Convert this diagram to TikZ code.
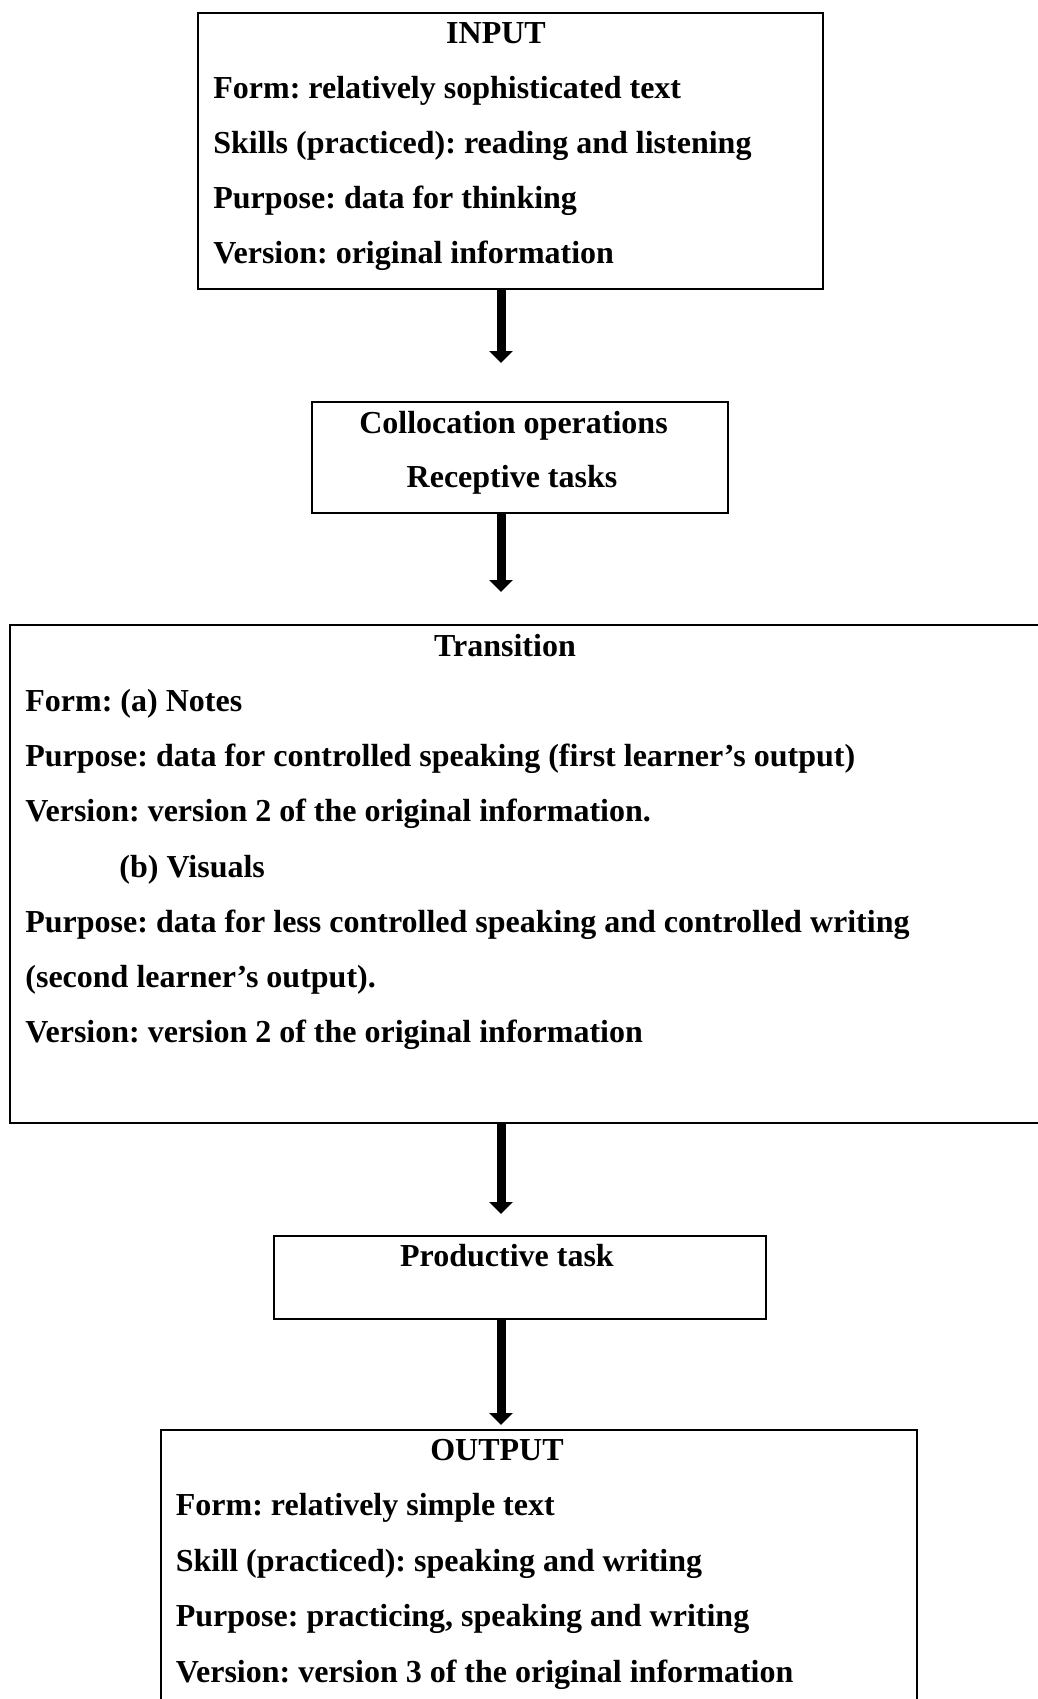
\documentclass[tikz,border=0pt]{standalone}
\usepackage{fontspec}
\setmainfont{Liberation Serif}
\usetikzlibrary{arrows.meta,calc}
\frenchspacing
\begin{document}
\begin{tikzpicture}[x=0.5pt,y=-0.5pt,
  box/.style={draw,line width=1.4pt,inner sep=0pt,outer sep=0pt,anchor=north west},
  txt/.style={inner sep=0pt,anchor=base west,font=\fontsize{16}{19}\selectfont\bfseries\frenchspacing},
  ttl/.style={inner sep=0pt,anchor=base,font=\fontsize{16}{19}\selectfont\bfseries\frenchspacing},
  flow/.style={line width=4.5pt,-{Triangle[width=11.5pt,length=6pt]}}]
\useasboundingbox (0,0) rectangle (1038,1699);
% boxes
\node[box,minimum width=312.5pt,minimum height=138pt] (in) at (198,13) {};
\node[box,minimum width=208pt,minimum height=55.5pt] (b2) at (312,402) {};
\node[box,minimum width=520pt,minimum height=249pt] (tr) at (10,625) {};
\node[box,minimum width=246pt,minimum height=41.5pt] (pt) at (274,1236) {};
\node[box,minimum width=378pt,minimum height=145pt] (out) at (161,1430) {};
\coordinate (ax) at (501,0);
% texts: input
\node[ttl] (inT) at (496,43) {INPUT};
\node[txt] (in1) at (213,98.5) {Form: relatively sophisticated text};
\node[txt] (in2) at (213,153.5) {Skills (practiced): reading and listening};
\node[txt] (in3) at (213,208.5) {Purpose: data for thinking};
\node[txt] (in4) at (213,263.5) {Version: original information};
% box 2
\node[ttl] (b2a) at (513.5,433) {Collocation operations};
\node[ttl] (b2b) at (512,487) {Receptive tasks};
% transition
\node[ttl] (trT) at (505,656) {Transition};
\node[txt] (tr1) at (25,711) {Form: (a) Notes};
\node[txt] (tr2) at (25,766) {Purpose: data for controlled speaking (first learner’s output)};
\node[txt] (tr3) at (25,821.5) {Version: version 2 of the original information.};
\node[txt] (tr4) at (119,877) {(b) Visuals};
\node[txt] (tr5) at (25,932) {Purpose: data for less controlled speaking and controlled writing};
\node[txt] (tr6) at (25,987) {(second learner’s output).};
\node[txt] (tr7) at (25,1042.5) {Version: version 2 of the original information};
% productive
\node[ttl] (ptT) at (507,1266) {Productive task};
% output
\node[ttl] (outT) at (497,1460) {OUTPUT};
\node[txt] (out1) at (175.5,1515.5) {Form: relatively simple text};
\node[txt] (out2) at (175.5,1571) {Skill (practiced): speaking and writing};
\node[txt] (out3) at (175.5,1626.5) {Purpose: practicing, speaking and writing};
\node[txt] (out4) at (175.5,1682) {Version: version 3 of the original information};
% connectors
\draw[flow,shorten >=19.5pt] (in.south -| ax) -- (b2.north -| ax);
\draw[flow,shorten >=16.5pt] (b2.south -| ax) -- (tr.north -| ax);
\draw[flow,shorten >=11pt] (tr.south -| ax) -- (pt.north -| ax);
\draw[flow,shorten >=2.5pt] (pt.south -| ax) -- (out.north -| ax);
\end{tikzpicture}
\end{document}
